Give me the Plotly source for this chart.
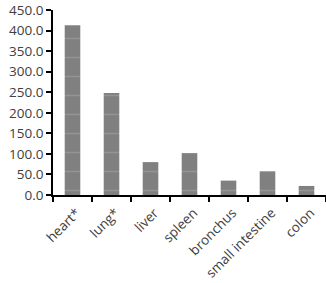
import plotly.graph_objects as go

categories = ["heart*", "lung*", "liver", "spleen", "bronchus", "small intestine", "colon"]
values = [413, 248, 80, 102, 35, 58, 22]
y_ticks = [0, 50, 100, 150, 200, 250, 300, 350, 400, 450]

fig = go.Figure(go.Bar(
    x=categories, y=values,
    marker=dict(color="#808080", line=dict(width=0),
                pattern=dict(shape="-", fgcolor="#a8a8a8", size=19, solidity=0.08)),
    width=0.4,
))

font = dict(family="Open Sans, Liberation Sans, sans-serif", size=14, color="#404040")

fig.update_layout(
    width=326, height=283,
    margin=dict(l=53, r=0, t=10, b=88),
    plot_bgcolor="white", paper_bgcolor="white",
    font=font, showlegend=False,
)
fig.update_yaxes(
    range=[0, 450], tickvals=y_ticks, tickformat=".1f",
    showgrid=False, zeroline=False,
    showline=True, linecolor="black", linewidth=1.5,
    ticks="outside", ticklen=5, tickcolor="black", tickwidth=1.5,
    tickfont=dict(size=13.5), automargin=False,
)
fig.update_xaxes(
    showgrid=False, tickangle=-45,
    showline=True, linecolor="black", linewidth=1.5,
    ticks="outside", ticklen=5, tickcolor="black", tickwidth=1.5,
    tickson="boundaries", ticklabelstandoff=3, ticklabelshift=4,
    tickfont=dict(size=13.5), automargin=False,
)
fig.write_html("out.html")
